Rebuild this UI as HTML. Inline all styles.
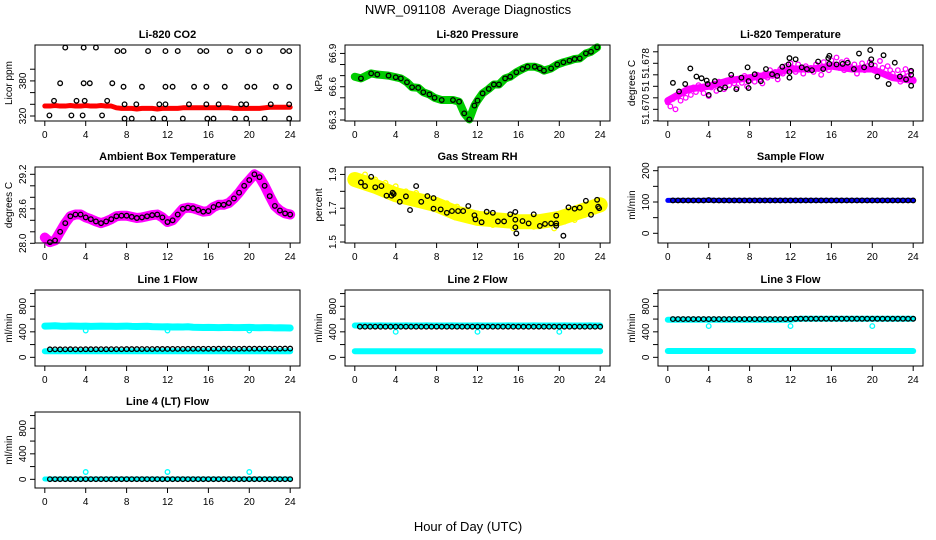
<!DOCTYPE html>
<html><head><meta charset="utf-8"><style>
html,body{margin:0;padding:0;background:#fff;}
svg{display:block;font-family:"Liberation Sans",sans-serif;}
</style></head><body>
<svg id="chart" width="936" height="540" viewBox="0 0 936 540" xmlns="http://www.w3.org/2000/svg">
<rect width="936" height="540" fill="#fff"/>
<text x="468" y="14" text-anchor="middle" font-size="13">NWR_091108&#160; Average Diagnostics</text>
<text x="468" y="531" text-anchor="middle" font-size="13">Hour of Day (UTC)</text>
</svg>
<script>
const xTicks = [0,4,8,12,16,20,24];
const co2Red = [337,337,338,337,337,338,337,337,338,337,337,338,337,337,334,333,333,333,332,333,333,333,332,333,333,333,333,334,334,334,334,334,334,334,334,334,334,333,333,333,333,333,333,334,335,335,335,335,335];
const co2PtHours = [2.0,3.8,5.0, 7.1,7.7,10.1,11.8,13.0,15.2,15.8,18.1,19.9,21.0,23.3,23.9, 1.5,3.8,4.4,6.6, 7.7,9.5,11.8,12.5,14.6,15.8,17.6,19.8,20.5,22.6,23.9, 0.9,3.1,3.9,6.1, 7.8,8.95,11.2,11.8,14.1,15.8,17.0,19.2,19.7,22.1,23.9, 0.45,2.6,3.7,5.6, 7.8,8.5,10.6,11.7,13.5,15.9,16.5,18.6,19.7,21.5,23.9];
const co2PtValues = [437,437,437, 431,431,431,431,431,431,431,431,431,431,431,431, 376,376,376,376, 370,370,370,370,370,370,370,370,370,370,370, 346,346,346,346, 340,340,340,340,340,340,340,340,340,340,340, 321,321,321,321, 315.5,315.5,315.5,315.5,315.5,315.5,315.5,315.5,315.5,315.5,315.5];
const presHours = [0,0.6,1.6,2.2,3.3,4,4.5,5.1,5.6,6.2,6.7,7.3,7.8,8.5,9.6,10.2,10.7,11.2,11.7,12,12.5,13.1,13.6,14.1,14.7,15.2,15.8,16.4,16.9,17.6,18.1,18.5,19.2,19.8,20.4,21,21.5,22,22.6,23.1,23.7];
const presValues = [66.69,66.675,66.72,66.71,66.70,66.685,66.675,66.64,66.595,66.59,66.55,66.53,66.50,66.48,66.48,66.465,66.36,66.305,66.43,66.475,66.54,66.58,66.62,66.62,66.675,66.69,66.73,66.76,66.78,66.78,66.765,66.745,66.765,66.80,66.82,66.835,66.85,66.855,66.90,66.915,66.955];
const tempMag = [51.6712,51.6705,51.6718,51.6700,51.6722,51.6715,51.6728,51.6720,51.6733,
51.6725,51.6738,51.6730,51.6742,51.6735,51.6728,51.6740,51.6723,
51.6738,51.6745,51.6732,51.6748,51.6740,51.6735,51.6750,51.6742,
51.6755,51.6745,51.6738,51.6752,51.6746,51.6758,51.6740,51.6750,
51.6756,51.6748,51.6760,51.6752,51.6745,51.6762,51.6755,51.6768,
51.6758,51.6765,51.6752,51.6770,51.6762,51.6775,51.6768,51.6780,
51.6772,51.6765,51.6778,51.6770,51.6762,51.6775,51.6768,51.6772,
51.6765,51.6778,51.6770,51.6760,51.6782,51.6775,51.6768,51.6785,
51.6778,51.6790,51.6772,51.6782,51.6768,51.6785,51.6775,51.6770,
51.6778,51.6762,51.6772,51.6780,51.6768,51.6775,51.6782,51.6770,
51.6776,51.6765,51.6784,51.6772,51.6760,51.6775,51.6768,51.6762,
51.6755,51.6768,51.6748,51.6762,51.6770,51.6758,51.6765,51.6752];
const tempTrend = [51.6715,51.6735,51.674,51.675,51.6755,51.676,51.677,51.677,51.6775,51.677,51.677,51.6755,51.675];
const tempPtHours = [0.5,1.1,1.7,2.2,2.8,3.3,3.8,3.9,4.0,4.6,5.1,5.6,6.2,6.7,7.2,7.8,7.9,7.9,8.5,9.1,9.6,10.2,10.7,11.2,11.8,11.9,11.9,11.9,12.5,13.1,13.6,14.1,14.7,15.2,15.7,15.8,15.8,16.5,17.1,17.6,18.2,18.7,19.2,19.8,19.9,19.9,20.5,21.1,21.6,22.2,22.7,23.3,23.8,23.8,23.8];
const tempPtValues = [51.6746,51.6731,51.6744,51.6771,51.6757,51.6754,51.6750,51.6744,51.6725,51.6749,51.6735,51.6738,51.6760,51.6735,51.6755,51.6773,51.6749,51.6737,51.6761,51.6749,51.6770,51.6761,51.6758,51.6774,51.6778,51.6765,51.6755,51.6789,51.6787,51.6773,51.6770,51.6768,51.6783,51.6770,51.6789,51.6793,51.6779,51.6778,51.6779,51.6781,51.6770,51.6797,51.6773,51.6803,51.6778,51.6787,51.6757,51.6794,51.6744,51.6781,51.6757,51.6752,51.6767,51.6760,51.6741];
const ambient = [28.10,28.02,28.05,28.20,28.35,28.47,28.50,28.50,28.45,28.42,28.38,28.35,28.38,28.42,28.47,28.48,28.48,28.46,28.44,28.45,28.47,28.49,28.50,28.45,28.37,28.40,28.50,28.60,28.62,28.61,28.58,28.55,28.56,28.63,28.67,28.67,28.70,28.78,28.88,29.00,29.10,29.20,29.15,29.00,28.82,28.65,28.57,28.52,28.50];
const rhYellow = [1.88,1.86,1.90,1.84,1.87,1.82,1.85,1.80,1.83,1.78,1.80,1.76,1.79,1.74,1.77,1.72,1.75,1.70,1.73,1.69,1.71,1.66,1.69,1.64,1.67,1.62,1.66,1.60,1.64,1.61,1.65,1.58,1.63,1.60,1.64,1.59,1.62,1.60,1.63,1.58,1.65,1.62,1.67,1.63,1.70,1.66,1.72,1.68,1.73];
const rhTrend = [1.87,1.83,1.78,1.75,1.72,1.67,1.64,1.63,1.62,1.62,1.64,1.68,1.72];
const rhPtHours = [0.6,1.0,1.6,2.0,2.6,3.1,3.6,3.7,3.8,4.4,5.0,5.4,6.0,6.5,7.1,7.7,7.7,8.4,9.0,9.5,10.1,10.6,11.1,11.7,11.8,12.4,12.9,13.5,14.0,14.6,15.2,15.7,15.7,15.7,15.8,16.4,17.0,17.5,18.1,18.6,19.2,19.7,19.7,19.7,20.4,20.9,21.5,22.0,22.6,23.1,23.7,23.8,23.9];
const rhPtValues = [1.853,1.831,1.886,1.824,1.831,1.774,1.774,1.792,1.784,1.738,1.770,1.689,1.831,1.738,1.772,1.760,1.697,1.693,1.673,1.683,1.683,1.683,1.713,1.658,1.634,1.617,1.679,1.673,1.622,1.622,1.664,1.678,1.632,1.587,1.551,1.624,1.610,1.664,1.595,1.607,1.610,1.610,1.656,1.596,1.537,1.705,1.697,1.703,1.744,1.661,1.750,1.709,1.700];
const sampleFlow = [105,105,105,105,105,105,105,105,106,105,105,105,105,105,105,105,105,105,105,105,105,105,105,105,105,105,105,105,105,105,105,105,105,105,105,105,105,105,105,105,105,105,105,105,105,105,105,105,105];
const line1High = [490,492,495,490,488,492,490,488,490,486,488,490,487,488,486,488,490,485,484,486,488,482,480,478,480,476,478,475,480,472,470,468,470,468,466,468,470,466,465,468,470,466,464,466,465,462,464,462,460];
const line1Low = [95,95,96,95,95,95,96,95,95,95,95,96,95,95,95,96,95,95,95,95,96,95,95,96,95,95,95,96,95,95,95,96,95,95,95,96,95,95,95,96,95,95,96,95,95,95,96,95,95];
const line1Black = [125,125,126,125,126,127,126,126,127,127,127,128,127,128,128,128,129,129,129,130,130,130,131,131,131,132,132,132,133,133,133,134,134,134,135,135,135,134,134,135,135,135,135,136,136,136,136,137,137];
const line2High = [500,500,501,500,500,501,500,500,500,500,501,500,500,500,501,500,500,500,500,501,500,500,500,500,501,500,500,500,500,500,501,500,500,500,500,501,500,500,500,500,500,501,500,500,500,500,501,500,500];
const line2Black = [480,480,480,480,481,480,480,480,480,480,481,480,480,480,480,480,481,480,480,480,480,480,480,481,480,480,480,480,480,480,481,480,480,480,480,480,481,480,480,480,480,480,480,481,480,480,480,480,480];
const line2Low = [95,95,95,95,95,95,95,95,95,95,95,95,95,95,95,95,95,95,95,95,95,95,95,95,95,95,95,95,95,95,95,95,95,95,95,95,95,95,95,95,95,95,95,95,95,95,95,95,95];
const line3High = [590,590,590,590,590,590,590,590,590,590,590,590,590,590,590,590,590,590,590,590,590,590,590,590,590,600,605,605,605,605,605,605,605,605,605,605,605,605,605,605,605,605,605,605,605,605,605,605,605];
const line3Black = [600,600,600,600,600,600,600,600,600,600,600,600,600,600,600,600,600,600,600,600,600,600,600,600,600,605,605,605,605,605,605,605,605,605,605,605,605,605,605,605,605,605,605,605,605,605,605,605,605];
const line3Low = [100,100,100,100,100,100,100,100,100,100,100,100,100,100,100,100,100,100,100,100,100,100,100,100,100,100,100,100,100,100,100,100,100,100,100,100,100,100,100,100,100,100,100,100,100,100,100,100,100];
const line4Cyan = [5,5,5,5,5,5,5,5,5,5,5,5,5,5,5,5,5,5,5,5,5,5,5,5,5,5,5,5,5,5,5,5,5,5,5,5,5,5,5,5,5,5,5,5,5,5,5,5,5];
const line4Black = [3,3,3,3,3,3,3,3,3,3,3,3,3,3,3,3,3,3,3,3,3,3,3,3,3,3,3,3,3,3,3,3,3,3,3,3,3,3,3,3,3,3,3,3,3,3,3,3,3];
const outHours = [4,12,20];
const line1Out = [420,420,420];
const line2Out = [400,400,400];
const line3Out = [490,490,490];
const line4Out = [115,115,115];

const NS = "http://www.w3.org/2000/svg";
const svg = document.getElementById('chart');
function mk(tag, attrs, parent){ const e=document.createElementNS(NS,tag); for(const k in attrs) e.setAttribute(k,attrs[k]); (parent||svg).appendChild(e); return e; }
function halfHours(arr){ return arr.map((_,i)=>i*0.5); }
function twoHours(arr){ return arr.map((_,i)=>i*2); }

const colX = [35,345,658], rowY = [45,167,290,412], W = 265, H = 76;
function panel(col,row,lo,hi,title,ytitle,ticks,labels,name){
  const x0=colX[col], y0=rowY[row];
  const g = mk('g',{});
  
  
  const p = {g,x0,y0,
    x:h=>x0+(h+0.96)/25.92*W,
    y:v=>y0+H-(v-lo)/(hi-lo)*H};
  const t = mk('text',{x:x0+W/2,y:y0-7,'text-anchor':'middle','font-size':11,'font-weight':'bold'},g);
  t.textContent = title;
  
  
  const yt = mk('text',{transform:`translate(${x0-23},${y0+H/2}) rotate(-90)`,'text-anchor':'middle','font-size':10},g);
  yt.textContent = ytitle;
  
  
  ticks.forEach((v,i)=>{
    const yy=p.y(v);
    mk('line',{x1:x0-5,x2:x0,y1:yy,y2:yy,stroke:'#000'},g);
    if(labels[i]){
      const l=mk('text',{transform:`translate(${x0-9},${yy}) rotate(-90)`,'text-anchor':'middle','font-size':10},g);
      l.textContent=labels[i];
      
      
    }
  });
  xTicks.forEach(h=>{
    const xx=p.x(h);
    mk('line',{x1:xx,x2:xx,y1:y0+H,y2:y0+H+5,stroke:'#000'},g);
    const l=mk('text',{x:xx,y:y0+H+17,'text-anchor':'middle','font-size':10},g);
    l.textContent=h;
    
    
  });
  p.plot = mk('g',{},g);
  const box = mk('rect',{x:x0,y:y0,width:W,height:H,fill:'none',stroke:'#000','stroke-width':1},g);
  
  
  return p;
}
function band(p,hours,vals,color,w){
  const pl = mk('polyline',{points:hours.map((h,i)=>p.x(h)+','+p.y(vals[i])).join(' '),fill:'none',stroke:color,'stroke-width':w,'stroke-linecap':'round','stroke-linejoin':'round'},p.plot);
  
  
}
function pts(p,hours,vals,color,start){
  for(let i=(start||0);i<vals.length;i++){
    const c = mk('circle',{cx:p.x(hours[i]),cy:p.y(vals[i]),r:2.3,fill:'none',stroke:color,'stroke-width':1.3},p.plot);
    
    
  }
}

// CO2
let p = panel(0,0,311.45,441.4,'Li-820 CO2','Licor ppm',[320,340,360,380,400],['320','','','380',''],'panel-co2');
band(p,halfHours(co2Red),co2Red,'#ff0000',5);
pts(p,co2PtHours,co2PtValues,'#000');
// Pressure
p = panel(1,0,66.291,66.976,'Li-820 Pressure','kPa',[66.3,66.4,66.5,66.6,66.7,66.8,66.9],['66.3','','','66.6','','','66.9'],'panel-pressure');
band(p,presHours,presValues,'#00cc00',8);
pts(p,presHours,presValues,'#000',1);
// Li-820 temp
p = panel(2,0,51.66797,51.68118,'Li-820 Temperature','degrees C',[51.668,51.670,51.672,51.674,51.676,51.678,51.680],['','51.670','','51','','51.678',''],'panel-li820-temperature');
band(p,twoHours(tempTrend),tempTrend,'#ff00ff',7);
pts(p,tempMag.map((_,i)=>i*0.25),tempMag,'#ff00ff');
pts(p,tempPtHours,tempPtValues,'#000');
// Ambient
p = panel(0,1,28.005,29.327,'Ambient Box Temperature','degrees C',[28.0,28.2,28.4,28.6,28.8,29.0,29.2],['28.0','','','28.6','','','29.2'],'panel-ambient-temperature');
band(p,halfHours(ambient),ambient,'#ff00ff',10);
pts(p,halfHours(ambient),ambient,'#000',1);
// RH
p = panel(1,1,1.494,1.944,'Gas Stream RH','percent',[1.5,1.6,1.7,1.8,1.9],['1.5','','1.7','','1.9'],'panel-gas-stream-rh');
band(p,twoHours(rhTrend),rhTrend,'#ffff00',15);
pts(p,halfHours(rhYellow),rhYellow,'#ffff00');
pts(p,rhPtHours,rhPtValues,'#000');
// Sample flow
p = panel(2,1,-31,211.8,'Sample Flow','ml/min',[0,50,100,150,200],['0','','100','','200'],'panel-sample-flow');
band(p,halfHours(sampleFlow),sampleFlow,'#0000ff',5);
pts(p,halfHours(sampleFlow),sampleFlow,'#000',1);
const flowTicks=[0,200,400,600,800,1000], flowLabels=['0','','400','','800',''];
// Line 1
p = panel(0,2,-136,1056,'Line 1 Flow','ml/min',flowTicks,flowLabels,'panel-line1-flow');
band(p,halfHours(line1High),line1High,'#00ffff',7);
band(p,halfHours(line1Low),line1Low,'#00ffff',6);
pts(p,outHours,line1Out,'#00ffff');
pts(p,halfHours(line1Black),line1Black,'#000',1);
// Line 2
p = panel(1,2,-136,1056,'Line 2 Flow','ml/min',flowTicks,flowLabels,'panel-line2-flow');
band(p,halfHours(line2High),line2High,'#00ffff',6);
band(p,halfHours(line2Low),line2Low,'#00ffff',6);
pts(p,outHours,line2Out,'#00ffff');
pts(p,halfHours(line2Black),line2Black,'#000',1);
// Line 3
p = panel(2,2,-136,1056,'Line 3 Flow','ml/min',flowTicks,flowLabels,'panel-line3-flow');
band(p,halfHours(line3High),line3High,'#00ffff',6);
band(p,halfHours(line3Low),line3Low,'#00ffff',6);
pts(p,outHours,line3Out,'#00ffff');
pts(p,halfHours(line3Black),line3Black,'#000',1);
// Line 4
p = panel(0,3,-136,1056,'Line 4 (LT) Flow','ml/min',flowTicks,flowLabels,'panel-line4-flow');
band(p,halfHours(line4Cyan),line4Cyan,'#00ffff',5);
pts(p,outHours,line4Out,'#00ffff');
pts(p,halfHours(line4Black),line4Black,'#000',1);
</script>
</body></html>
